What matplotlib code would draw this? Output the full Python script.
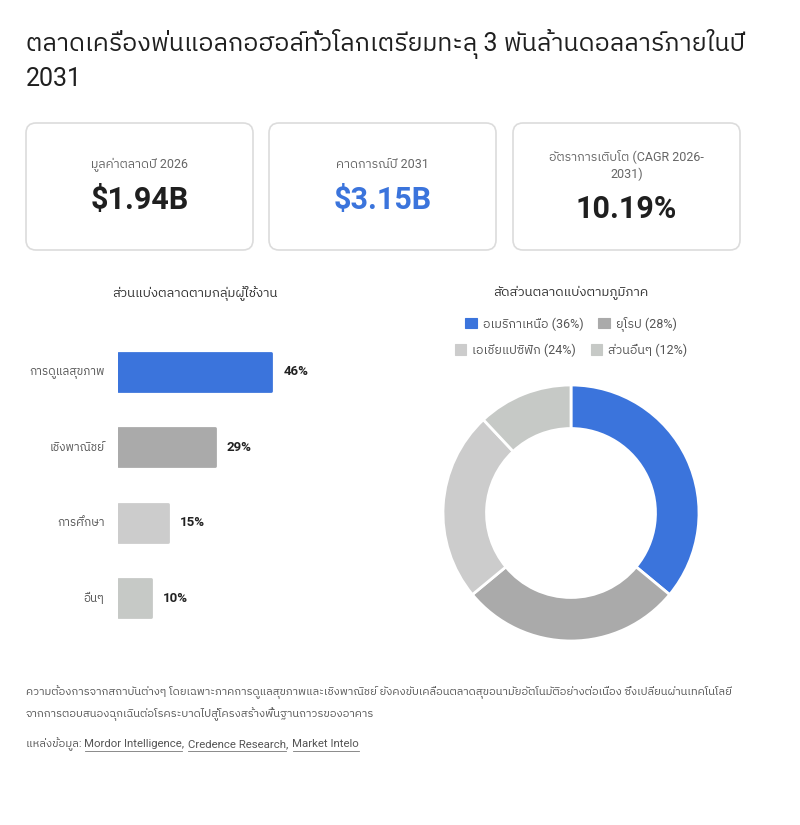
import numpy as np
import matplotlib
matplotlib.use('Agg')
import matplotlib.pyplot as plt
from matplotlib import font_manager as fm
from matplotlib.ft2font import FT2Font
from matplotlib.patches import FancyBboxPatch, Patch

W, H = 800, 825

title = 'ตลาดเครื่องพ่นแอลกอฮอล์ทั่วโลกเตรียมทะลุ 3 พันล้านดอลลาร์ภายในปี\n2031'
card_labels = ['มูลค่าตลาดปี 2026', 'คาดการณ์ปี 2031', 'อัตราการเติบโต (CAGR 2026-\n2031)']
card_values = [r'\$1.94B', r'\$3.15B', '10.19%']

seg_title = 'ส่วนแบ่งตลาดตามกลุ่มผู้ใช้งาน'
seg_names = ['การดูแลสุขภาพ', 'เชิงพาณิชย์', 'การศึกษา', 'อื่นๆ']
seg_share = [46, 29, 15, 10]

reg_title = 'สัดส่วนตลาดแบ่งตามภูมิภาค'
reg_names = ['อเมริกาเหนือ', 'ยุโรป', 'เอเชียแปซิฟิก', 'ส่วนอื่นๆ']
reg_share = [36, 28, 24, 12]

note = ('ความต้องการจากสถาบันต่างๆ โดยเฉพาะภาคการดูแลสุขภาพและเชิงพาณิชย์ ยังคงขับเคลื่อนตลาดสุขอนามัยอัตโนมัติอย่างต่อเนื่อง ซึ่งเปลี่ยนผ่านเทคโนโลยี\n'
        'จากการตอบสนองฉุกเฉินต่อโรคระบาดไปสู่โครงสร้างพื้นฐานถาวรของอาคาร')
source_label = 'แหล่งข้อมูล: '
sources = ['Mordor Intelligence', 'Credence Research', 'Market Intelo']

blue = '#3b74dc'
colors = [blue, '#aaaaaa', '#cccccc', '#c6c9c6']


# find any installed font that can draw Thai
def thai_font():
    found = []
    for f in fm.fontManager.ttflist:
        try:
            if 0x0E01 in FT2Font(f.fname).get_charmap():
                found.append(f.name)
        except Exception:
            pass
    for name in found:
        if 'Sans' in name:
            return name
    return found[0] if found else 'DejaVu Sans'


th = thai_font()
plt.rcParams['font.family'] = ['Roboto', th, 'DejaVu Sans']

fig = plt.figure(figsize=(W / 100, H / 100), dpi=100)
bg = fig.add_axes([0, 0, 1, 1])
bg.set_xlim(0, W)
bg.set_ylim(H, 0)
bg.axis('off')


def px_axes(x0, y0, x1, y1):
    return fig.add_axes([x0 / W, 1 - y1 / H, (x1 - x0) / W, (y1 - y0) / H])


# title
bg.text(26, 60, title, fontsize=18, color='#1f1f1f', va='center', ha='left', linespacing=1.45)

# cards
card_x = [26, 269, 513]
for i in range(3):
    x0 = card_x[i]
    bg.add_patch(FancyBboxPatch((x0, 123), 227, 127, boxstyle='round,pad=0,rounding_size=10',
                                fc='white', ec='#dcdcdc', lw=1.2))
    cx = x0 + 113.5
    if i < 2:
        bg.text(cx, 165, card_labels[i], fontsize=9, color='#666666', ha='center', va='center')
        bg.text(cx, 200, card_values[i], fontsize=22, color=blue if i == 1 else '#1f1f1f',
                ha='center', va='center', fontweight='semibold')
    else:
        bg.text(cx, 165, card_labels[i], fontsize=9, color='#666666', ha='center', va='center',
                linespacing=1.5)
        bg.text(cx, 209, card_values[i], fontsize=22, color='#1f1f1f',
                ha='center', va='center', fontweight='semibold')

# bar chart: share by user group
bg.text(195, 293, seg_title, fontsize=9.5, color='#333333', ha='center', va='center')
ax = px_axes(118, 334, 318, 636)
ypos = np.arange(len(seg_names))
ax.barh(ypos, seg_share, height=0.5, color=colors, edgecolor=colors, linewidth=2, joinstyle='round')
ax.set_xlim(0, 60)
ax.set_ylim(len(seg_names) - 0.5, -0.5)
ax.axis('off')
for i in range(len(seg_names)):
    ax.text(seg_share[i] + 3.6, ypos[i], f'{seg_share[i]}%', fontsize=9.5, fontweight='bold',
            color='#222222', va='center', ha='left')
    ax.text(-4, ypos[i], seg_names[i], fontsize=8.5, color='#555555', va='center', ha='right')

# donut: share by region
bg.text(571, 293, reg_title, fontsize=9.5, color='#333333', ha='center', va='center')
ax2 = px_axes(443, 385, 699, 641)
ax2.pie(reg_share, colors=colors, startangle=90, counterclock=False, radius=1,
        wedgeprops=dict(width=0.34, edgecolor='white', linewidth=2))
ax2.set_xlim(-1, 1)
ax2.set_ylim(-1, 1)

handles = [Patch(fc=colors[i], ec=colors[i], lw=0.8, joinstyle='round') for i in range(4)]
labels = [f'{reg_names[i]} ({reg_share[i]}%)' for i in range(4)]
for row, yc in [(0, 324), (1, 350)]:
    lg = fig.legend(handles[row * 2:row * 2 + 2], labels[row * 2:row * 2 + 2], ncol=2,
                    loc='center', bbox_to_anchor=(571 / W, 1 - yc / H), frameon=False,
                    fontsize=9, handlelength=0.9, handleheight=0.9, handletextpad=0.5,
                    columnspacing=1.2, labelcolor='#555555', borderpad=0)

# footnote
bg.text(26, 703, note, fontsize=8.1, color='#555555', ha='left', va='center', linespacing=1.8)

fig.canvas.draw()
r = fig.canvas.get_renderer()
src_size = 8.2
t = bg.text(26, 744, source_label, fontsize=src_size, color='#555555', ha='left', va='center')
inv = bg.transData.inverted()
x = inv.transform(t.get_window_extent(r))[1][0]
for k, s in enumerate(sources):
    label = s + (', ' if k < len(sources) - 1 else '')
    t = bg.text(x, 744, label, fontsize=src_size, color='#555555', ha='left', va='center')
    bb = inv.transform(t.get_window_extent(r))
    tw = inv.transform(bg.text(0, 0, s, fontsize=src_size, alpha=0).get_window_extent(r))
    bg.plot([x, x + tw[1][0] - tw[0][0]], [751, 751], color='#777777', lw=0.6)
    x = bb[1][0] + 1

fig.savefig('out.png', dpi=100, facecolor='white')
